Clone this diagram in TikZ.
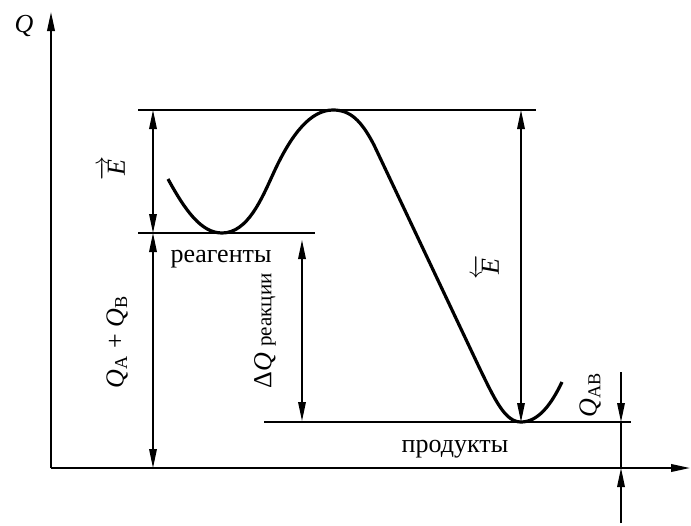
\documentclass[tikz,border=0pt]{standalone}
\usepackage{amsmath}
\usepackage{fontspec}
\setmainfont{Liberation Serif}
\usetikzlibrary{arrows.meta}
\begin{document}
\begin{tikzpicture}[x=0.5pt,y=-0.5pt,
  tip/.style={-{Triangle[length=9.5pt,width=3.8pt]}},
  dtip/.style={{Triangle[length=9.5pt,width=3.8pt]}-{Triangle[length=9.5pt,width=3.8pt]}},
  level/.style={line width=0.9pt},
  dim/.style={line width=0.7pt},
  axis/.style={line width=0.9pt},
  curve/.style={line width=1.6pt},
  lbl/.style={inner sep=0pt,font=\fontsize{13}{15}\selectfont},
  rlbl/.style={lbl,rotate=90}]
\useasboundingbox (0,0) rectangle (691,525);
% axes
\coordinate (o) at (51,468);
\coordinate (ytop) at (51,12);
\coordinate (xend) at (690,468);
\draw[axis,tip] (o) -- (ytop);
\draw[axis,tip] (o) -- (xend);
\node[lbl] (qlab) at (24,26) {\textit{Q}};
% levels
\coordinate (t1) at (138,110); \coordinate (t2) at (536,110);
\coordinate (r1) at (138,233); \coordinate (r2) at (315,233);
\coordinate (p1) at (264,422); \coordinate (p2) at (631,422);
\draw[level] (t1) -- (t2);
\draw[level] (r1) -- (r2);
\draw[level] (p1) -- (p2);
% dimension arrows
\coordinate (ea) at (153,110); \coordinate (eb) at (153,233);
\coordinate (qb) at (153,468);
\draw[dim,dtip] (ea) -- (eb);
\draw[dim,dtip] (eb) -- (qb);
\coordinate (da) at (302,240); \coordinate (db) at (302,421);
\draw[dim,dtip] (da) -- (db);
\coordinate (fa) at (521,110); \coordinate (fb) at (521,422);
\draw[dim,dtip] (fa) -- (fb);
\coordinate (ga) at (621,372); \coordinate (gb) at (621,422);
\coordinate (gc) at (621,468); \coordinate (gd) at (621,523);
\draw[dim,tip] (ga) -- (gb);
\draw[dim] (gb) -- (gc);
\draw[dim,tip] (gd) -- (gc);
% curve
\draw[curve] (168,179) .. controls (185,210) and (201,233) .. (222,233)
  .. controls (248,233) and (262,198) .. (274,172)
  .. controls (292,133) and (311,110) .. (333,110)
  .. controls (350,110) and (361,120) .. (374,145)
  -- (479,367)
  .. controls (495,400) and (505,422) .. (521,422)
  .. controls (538,422) and (551,405) .. (562,382);
% labels
\node[rlbl] (elab) at (112,168) {$\overrightarrow{\mbox{\textit{E}}}$};
\node[rlbl] (erlab) at (486,267) {$\overleftarrow{\mbox{\textit{E}}}$};
\node[rlbl] (qab) at (117,342) {\textit{Q}\textsubscript{A} + \textit{Q}\textsubscript{B}};
\node[rlbl] (dq) at (265,331) {Δ\textit{Q} {\fontsize{10.5}{12}\selectfont реакции}};
\node[rlbl] (qabl) at (590,395) {\textit{Q}\textsubscript{AB}};
\node[lbl] (reag) at (221,259) {реагенты};
\node[lbl] (prod) at (455,449) {продукты};
\end{tikzpicture}
\end{document}
